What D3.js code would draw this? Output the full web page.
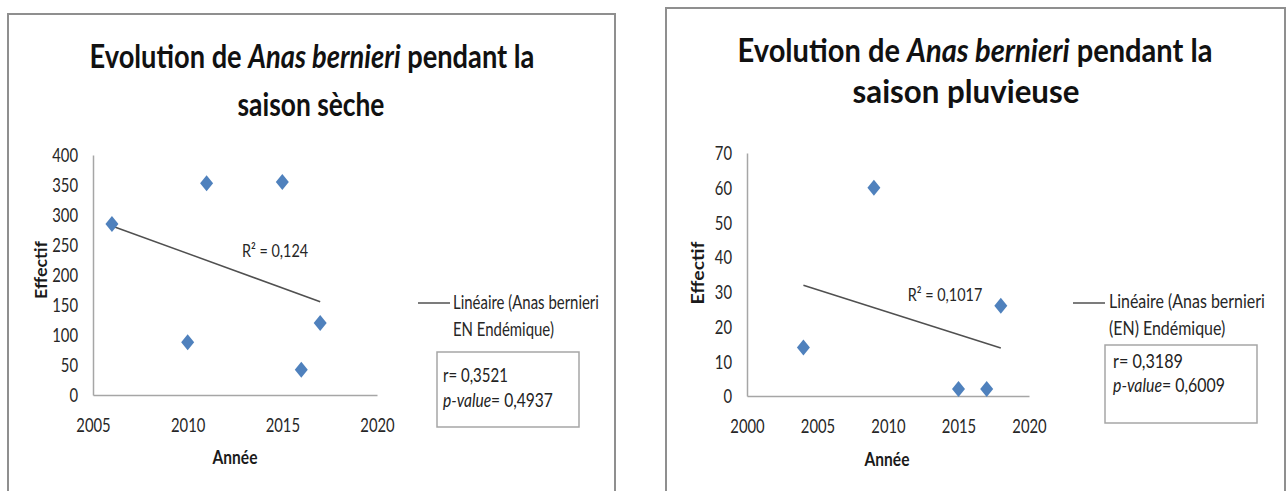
<!DOCTYPE html>
<html>
<head>
<meta charset="utf-8">
<script src="https://cdn.jsdelivr.net/npm/d3@7"></script>
<style>
  body { margin: 0; background: #fff; }
  text { font-family: Lato, "Open Sans", sans-serif; fill: #1a1a1a; }
</style>
</head>
<body>
<div id="chart"></div>
<script>
// Saison sèche
var yearsDry = [2006, 2010, 2011, 2015, 2016, 2017];
var countsDry = [285, 88, 353, 355, 42, 120];
var xTicksDry = [2005, 2010, 2015, 2020];
var yTicksDry = [0, 50, 100, 150, 200, 250, 300, 350, 400];

// Saison pluvieuse
var yearsWet = [2004, 2009, 2015, 2017, 2018];
var countsWet = [14, 60, 2, 2, 26];
var xTicksWet = [2000, 2005, 2010, 2015, 2020];
var yTicksWet = [0, 10, 20, 30, 40, 50, 60, 70];

var titleLine2 = ["saison sèche", "saison pluvieuse"];
var r2Labels = ["R² = 0,124", "R² = 0,1017"];
var legendLines = [["Linéaire (Anas bernieri", "EN Endémique)"], ["Linéaire (Anas bernieri", "(EN) Endémique)"]];
var rLabels = ["r= 0,3521", "r= 0,3189"];
var pLabels = ["= 0,4937", "= 0,6009"];

var K = 0.76; // the picture is squeezed horizontally

var svg = d3.select("#chart").append("svg")
    .attr("width", 1287)
    .attr("height", 491);

svg.append("rect").attr("width", 1287).attr("height", 491).attr("fill", "#fff");

function squeeze(sel, k) {
    sel.each(function () {
        var t = d3.select(this);
        var x = +t.attr("x") || 0, y = +t.attr("y") || 0;
        t.attr("transform", "translate(" + x + "," + y + ") scale(" + k + ",1) translate(" + (-x) + "," + (-y) + ")");
    });
}

function fitWidth(sel, target) {
    var k = target / sel.node().getComputedTextLength();
    squeeze(sel, k);
    return k;
}

function regression(xs, ys) {
    var mx = d3.mean(xs), my = d3.mean(ys);
    var sxy = d3.sum(xs, (x, i) => (x - mx) * (ys[i] - my));
    var sxx = d3.sum(xs, x => (x - mx) * (x - mx));
    var b = sxy / sxx;
    return x => my + b * (x - mx);
}

var panels = [
    {
        frame: [8, 14, 615, 492],
        title: { cx1: 312, cx2: 311, y1: 68, y2: 116, w1: 445, w2: 147 },
        x: d3.scaleLinear().domain([2005, 2020]).range([93, 377]),
        y: d3.scaleLinear().domain([0, 400]).range([395, 155]),
        years: yearsDry, counts: countsDry, xTicks: xTicksDry, yTicks: yTicksDry,
        r2: { x: 275, y: 257 },
        yLab: { x: 41, y: 270, w: 58 }, xLab: { x: 235, y: 464 },
        legend: { x1: 418, x2: 450, y: 303, tx: 453, b1: 309, b2: 336, w: 146 },
        box: { x: 437, y: 352, w: 142, h: 75, tx: 443, b1: 382, b2: 407, rw: 65, pw: 110 }
    },
    {
        frame: [666, 8, 1285, 492],
        title: { cx1: 975, cx2: 966, y1: 62, y2: 103, w1: 475, w2: 227 },
        x: d3.scaleLinear().domain([2000, 2020]).range([747, 1029]),
        y: d3.scaleLinear().domain([0, 70]).range([396, 153]),
        years: yearsWet, counts: countsWet, xTicks: xTicksWet, yTicks: yTicksWet,
        r2: { x: 945, y: 301 },
        yLab: { x: 698, y: 273, w: 63 }, xLab: { x: 887, y: 466 },
        legend: { x1: 1073, x2: 1105, y: 303, tx: 1109, b1: 308, b2: 335, w: 156 },
        box: { x: 1105, y: 345, w: 152, h: 78, tx: 1113, b1: 368, b2: 392, rw: 70, pw: 112 }
    }
];

panels.forEach(function (p, idx) {
    var g = svg.append("g");

    // frame
    g.append("rect")
        .attr("x", p.frame[0]).attr("y", p.frame[1])
        .attr("width", p.frame[2] - p.frame[0]).attr("height", p.frame[3] - p.frame[1])
        .attr("fill", "none").attr("stroke", "#8f8f8f").attr("stroke-width", 2);

    // title
    var t1 = g.append("text")
        .attr("x", p.title.cx1).attr("y", p.title.y1)
        .attr("text-anchor", "middle")
        .style("font-size", "32px").style("font-weight", "bold")
        .style("fill", "#111");
    t1.append("tspan").text("Evolution de ");
    t1.append("tspan").style("font-style", "italic").text("Anas bernieri");
    t1.append("tspan").text(" pendant la");
    fitWidth(t1, p.title.w1);

    var t2 = g.append("text")
        .attr("x", p.title.cx2).attr("y", p.title.y2)
        .attr("text-anchor", "middle")
        .style("font-size", "32px").style("font-weight", "bold")
        .style("fill", "#111")
        .text(titleLine2[idx]);
    fitWidth(t2, p.title.w2);

    var x = p.x, y = p.y;
    var y0 = y.range()[0];

    // axes
    var xAxis = g.append("g")
        .attr("transform", "translate(0," + y0 + ")")
        .call(d3.axisBottom(x).tickValues(p.xTicks).tickSize(0).tickPadding(0).tickFormat(d3.format("d")));
    xAxis.select(".domain").attr("stroke", "#a6a6a6").attr("stroke-width", 1.5);
    xAxis.selectAll("text")
        .attr("y", 37).attr("dy", null)
        .style("font-size", "19.5px").style("fill", "#262626");
    xAxis.selectAll("text").attr("transform", "scale(" + K + ",1)");

    var yAxis = g.append("g")
        .attr("transform", "translate(" + x.range()[0] + ",0)")
        .call(d3.axisLeft(y).tickValues(p.yTicks).tickSize(0).tickPadding(0));
    yAxis.select(".domain").attr("stroke", "#a6a6a6").attr("stroke-width", 1.5);
    yAxis.selectAll("text")
        .attr("x", -15 / K).attr("dy", "0.35em")
        .style("font-size", "19.5px").style("fill", "#262626");
    yAxis.selectAll("text").attr("transform", "scale(" + K + ",1)");

    // axis titles
    var yl = g.append("text")
        .attr("text-anchor", "middle").attr("dy", "0.35em")
        .style("font-size", "19px").style("font-weight", "bold")
        .text("Effectif");
    var ys = p.yLab.w / yl.node().getComputedTextLength();
    yl.attr("transform", "translate(" + p.yLab.x + "," + p.yLab.y + ") scale(0.9,1) rotate(-90) scale(" + ys + ",1)");

    var xl = g.append("text")
        .attr("x", p.xLab.x).attr("y", p.xLab.y)
        .attr("text-anchor", "middle")
        .style("font-size", "18.5px").style("font-weight", "bold")
        .text("Année");
    squeeze(xl, 0.84);

    // trend line
    var fit = regression(p.years, p.counts);
    var ext = d3.extent(p.years);
    g.append("path")
        .attr("d", d3.line().x(d => x(d)).y(d => y(fit(d)))(ext))
        .attr("stroke", "#505050").attr("stroke-width", 1.5).attr("fill", "none");

    // points
    g.selectAll(".pt")
        .data(p.years.map((yr, i) => [yr, p.counts[i]]))
        .join("path")
        .attr("class", "pt")
        .attr("transform", d => "translate(" + x(d[0]) + "," + y(d[1]) + ")")
        .attr("d", "M0,-8L6.5,0L0,8L-6.5,0Z")
        .attr("fill", "#4f81bd");

    // R² label
    var r2 = g.append("text")
        .attr("x", p.r2.x).attr("y", p.r2.y)
        .attr("text-anchor", "middle")
        .style("font-size", "18px").style("fill", "#262626")
        .text(r2Labels[idx]);
    squeeze(r2, 0.8);

    // legend
    g.append("line")
        .attr("x1", p.legend.x1).attr("x2", p.legend.x2)
        .attr("y1", p.legend.y).attr("y2", p.legend.y)
        .attr("stroke", "#505050").attr("stroke-width", 1.5);
    var leg = g.selectAll(".leg")
        .data(legendLines[idx])
        .join("text")
        .attr("class", "leg")
        .attr("x", p.legend.tx)
        .attr("y", (d, i) => i ? p.legend.b2 : p.legend.b1)
        .style("font-size", "19px").style("fill", "#262626")
        .text(d => d);
    var lk = p.legend.w / leg.node().getComputedTextLength();
    squeeze(leg, lk);

    // stats box
    g.append("rect")
        .attr("x", p.box.x).attr("y", p.box.y)
        .attr("width", p.box.w).attr("height", p.box.h)
        .attr("fill", "#fff").attr("stroke", "#a6a6a6").attr("stroke-width", 1.5);
    var rt = g.append("text")
        .attr("x", p.box.tx).attr("y", p.box.b1)
        .style("font-size", "19px").style("fill", "#222")
        .text(rLabels[idx]);
    fitWidth(rt, p.box.rw);
    var pv = g.append("text")
        .attr("x", p.box.tx).attr("y", p.box.b2)
        .style("font-size", "19px").style("fill", "#222");
    pv.append("tspan").style("font-style", "italic").text("p-value");
    pv.append("tspan").text(pLabels[idx]);
    fitWidth(pv, p.box.pw);
});
</script>
</body>
</html>
